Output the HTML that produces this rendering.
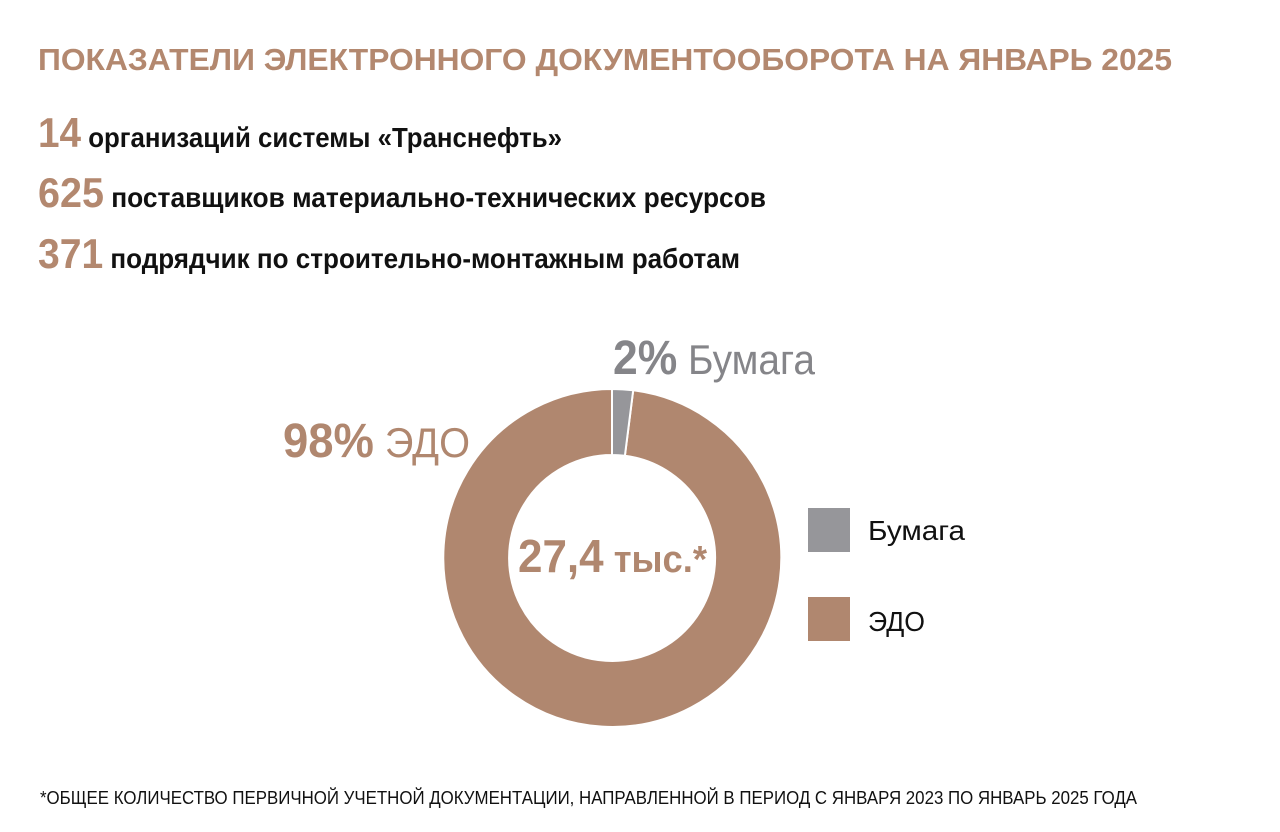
<!DOCTYPE html>
<html><head><meta charset="utf-8"><style>
html,body{margin:0;padding:0;background:#fff;}
svg{display:block;}
text{font-family:"Liberation Sans Narrow","Liberation Sans",sans-serif;}
</style></head><body>
<svg width="1280" height="832" viewBox="0 0 1280 832">
<text x="38" y="70" font-size="31" font-weight="bold" fill="#b3886f" textLength="1134" lengthAdjust="spacingAndGlyphs">ПОКАЗАТЕЛИ ЭЛЕКТРОННОГО ДОКУМЕНТООБОРОТА НА ЯНВАРЬ 2025</text>
<text x="38" y="147" textLength="524" lengthAdjust="spacingAndGlyphs"><tspan font-size="42" font-weight="bold" fill="#b3886f">14</tspan><tspan font-size="28" fill="#111" font-weight="bold"> организаций системы «Транснефть»</tspan></text>
<text x="38" y="207" textLength="728" lengthAdjust="spacingAndGlyphs"><tspan font-size="42" font-weight="bold" fill="#b3886f">625</tspan><tspan font-size="28" fill="#111" font-weight="bold"> поставщиков материально-технических ресурсов</tspan></text>
<text x="38" y="268" textLength="702" lengthAdjust="spacingAndGlyphs"><tspan font-size="42" font-weight="bold" fill="#b3886f">371</tspan><tspan font-size="28" fill="#111" font-weight="bold"> подрядчик по строительно-монтажным работам</tspan></text>

<path d="M633.2,390.3 A169,169 0 1,1 612,389 L612,455 A103,103 0 1,0 624.9,455.8 Z" fill="#b0876f" stroke="#fff" stroke-width="2"/>
<path d="M612,389 A169,169 0 0,1 633.2,390.3 L624.9,455.8 A103,103 0 0,0 612,455 Z" fill="#96969a" stroke="#fff" stroke-width="2"/>

<text x="283" y="457" textLength="187" lengthAdjust="spacingAndGlyphs" fill="#b0876f"><tspan font-size="48" font-weight="bold">98%</tspan><tspan font-size="42"> ЭДО</tspan></text>
<text x="613" y="374" textLength="202" lengthAdjust="spacingAndGlyphs" fill="#858589"><tspan font-size="48" font-weight="bold">2%</tspan><tspan font-size="42"> Бумага</tspan></text>
<text x="518" y="572" textLength="189" lengthAdjust="spacingAndGlyphs" fill="#b0876f" font-weight="bold"><tspan font-size="46">27,4</tspan><tspan font-size="38"> тыс.*</tspan></text>

<rect x="808" y="508" width="42" height="44" fill="#96969a"/>
<rect x="808" y="597" width="42" height="44" fill="#b0876f"/>
<text x="868" y="540" font-size="28" fill="#111" textLength="97" lengthAdjust="spacingAndGlyphs">Бумага</text>
<text x="868" y="631" font-size="28" fill="#111" textLength="57" lengthAdjust="spacingAndGlyphs">ЭДО</text>

<text x="40" y="804" font-size="18" fill="#111" textLength="1097" lengthAdjust="spacingAndGlyphs">*ОБЩЕЕ КОЛИЧЕСТВО ПЕРВИЧНОЙ УЧЕТНОЙ ДОКУМЕНТАЦИИ, НАПРАВЛЕННОЙ В ПЕРИОД С ЯНВАРЯ 2023 ПО ЯНВАРЬ 2025 ГОДА</text>
</svg>
</body></html>
